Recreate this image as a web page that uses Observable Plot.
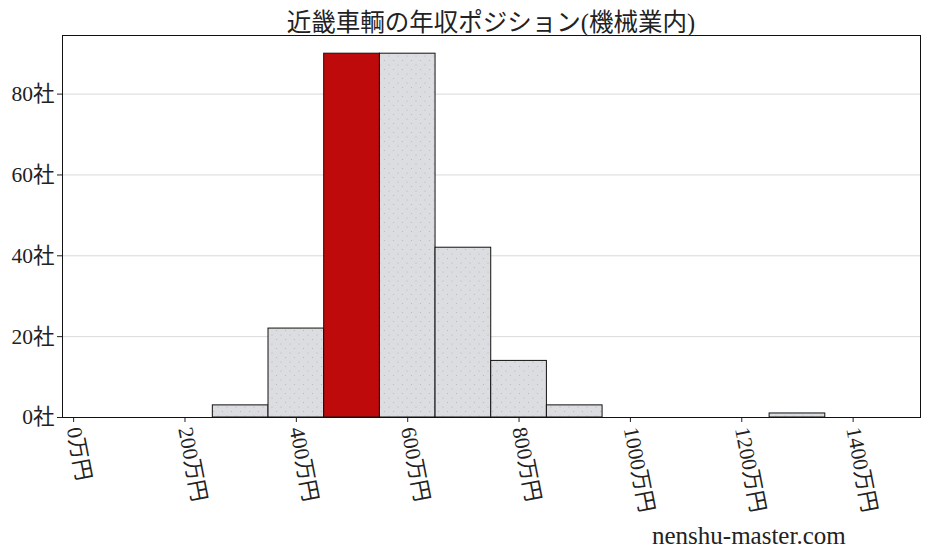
<!DOCTYPE html>
<html><head><meta charset="utf-8">
<script src="https://cdn.jsdelivr.net/npm/d3@7"></script>
<script src="https://cdn.jsdelivr.net/npm/@observablehq/plot@0.6"></script>
<style>
body{margin:0;background:#fff;}
#wrap{position:relative;width:927px;height:557px;font-family:"Liberation Serif","DejaVu Serif","Noto Sans CJK JP",serif;color:#222;}
#title{position:absolute;top:3px;left:62px;width:858px;text-align:center;font-size:24.5px;}
#credit{position:absolute;left:652px;top:522px;font-size:25px;}
</style></head>
<body>
<div id="wrap"><div id="chart"></div><div id="title">近畿車輌の年収ポジション(機械業内)</div><div id="credit">nenshu-master.com</div></div>
<script>
const binStart = [250, 350, 450, 550, 650, 750, 850, 1250];
const binEnd   = [350, 450, 550, 650, 750, 850, 950, 1350];
const counts   = [3, 22, 90, 90, 42, 14, 3, 1];
const highlight = [false, false, true, false, false, false, false, false];
const xTicks = [0, 200, 400, 600, 800, 1000, 1200, 1400];
const yTicks = [0, 20, 40, 60, 80];

const data = binStart.map((s, i) => ({x1: s, x2: binEnd[i], y: counts[i], hi: highlight[i]}));

const chart = Plot.plot({
  width: 927, height: 557,
  marginLeft: 62, marginRight: 7, marginTop: 35, marginBottom: 140,
  style: {fontFamily: '"Liberation Serif","DejaVu Serif","Noto Sans CJK JP",serif', fontSize: "21.5px", color: "#222"},
  x: {domain: [-20, 1521], ticks: xTicks, tickFormat: d => `${d}万円`, tickRotate: 79, tickSize: 5, label: null, tickPadding: 5},
  y: {domain: [0, 94.5], ticks: yTicks, tickFormat: d => `${d}社`, tickSize: 5, label: null, tickPadding: 3},
  marks: [
    Plot.gridY(yTicks, {stroke: "#d9d9d9", strokeOpacity: 1}),
    Plot.rect(data.filter(d => !d.hi), {x1: "x1", x2: "x2", y1: 0, y2: "y", fill: "url(#dots)", stroke: "#111", strokeWidth: 1}),
    Plot.rect(data.filter(d => d.hi), {x1: "x1", x2: "x2", y1: 0, y2: "y", fill: "#be0a0a", stroke: "#111", strokeWidth: 1}),
    Plot.frame({stroke: "#111", strokeWidth: 1})
  ]
});
const ns = "http://www.w3.org/2000/svg";
const defs = document.createElementNS(ns, "defs");
defs.innerHTML = `<pattern id="dots" width="9" height="9" patternUnits="userSpaceOnUse">
<rect width="9" height="9" fill="#dcdde0"/>
<circle cx="2" cy="2" r="0.6" fill="#b5b5b8"/>
<circle cx="6.5" cy="6.5" r="0.6" fill="#b5b5b8"/>
</pattern>`;
chart.insertBefore(defs, chart.firstChild);
document.getElementById("chart").appendChild(chart);
</script>
</body></html>
